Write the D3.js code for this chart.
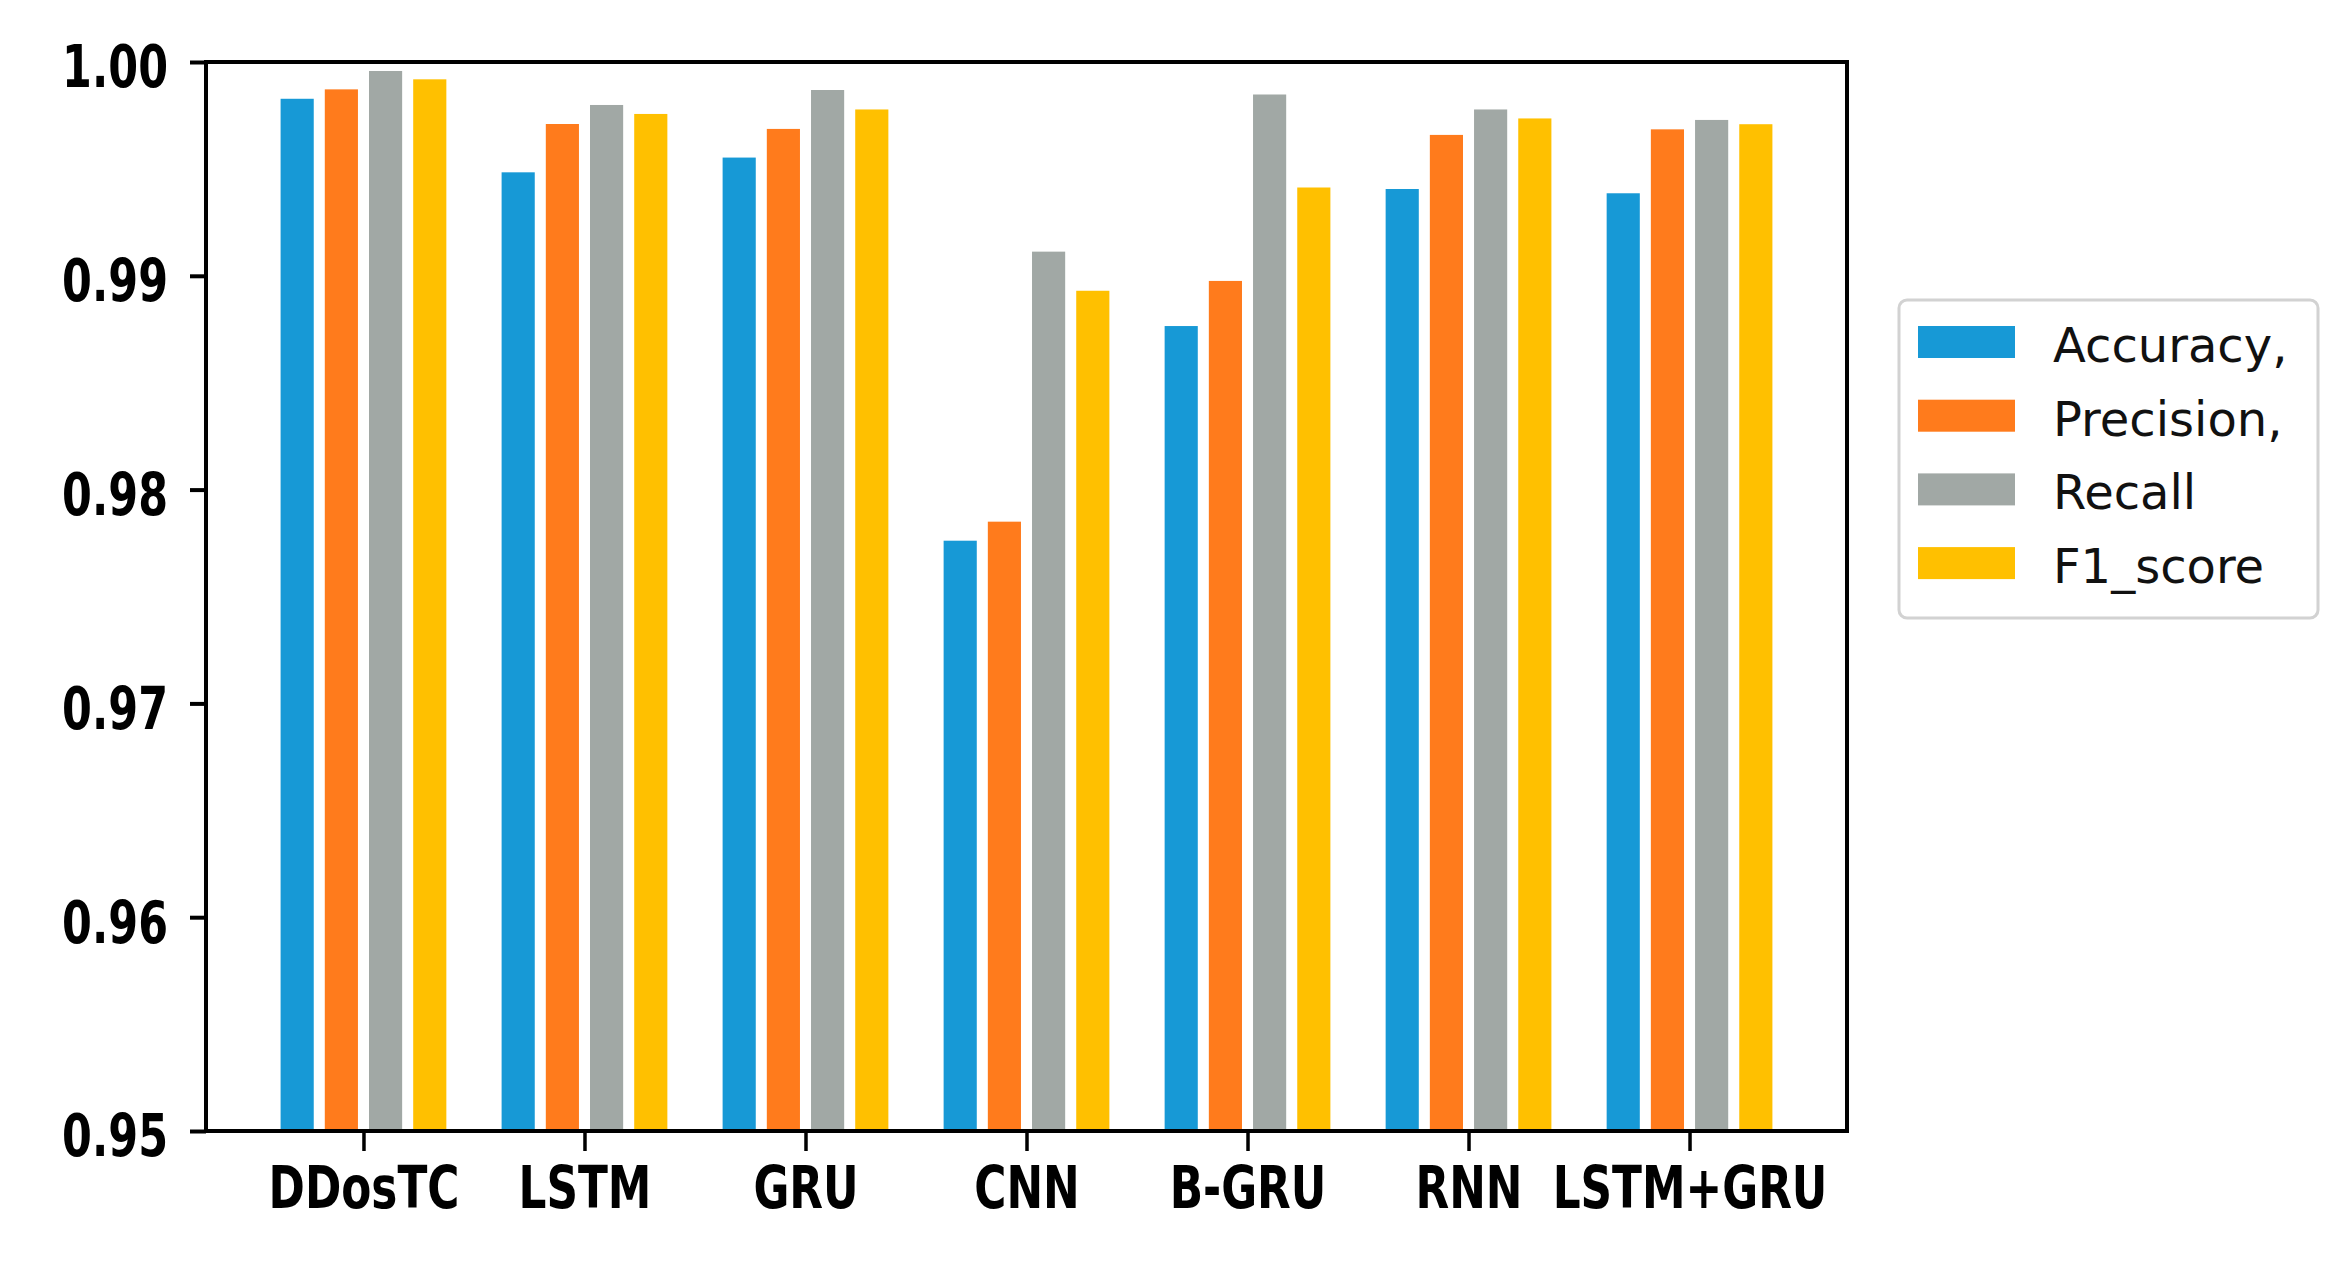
<!DOCTYPE html>
<html><head><meta charset="utf-8">
<script src="https://cdn.jsdelivr.net/npm/d3@7"></script>
<style>body{margin:0;background:#fff}svg{display:block}</style>
</head><body>
<script>
const categories = ["DDosTC","LSTM","GRU","CNN","B-GRU","RNN","LSTM+GRU"];
const seriesNames = ["Accuracy,","Precision,","Recall","F1_score"];
const accuracy  = [0.99828,0.99484,0.99553,0.97761,0.98765,0.99406,0.99386];
const precision = [0.99872,0.99710,0.99687,0.97850,0.98976,0.99659,0.99685];
const recall    = [0.99958,0.99799,0.99869,0.99113,0.99848,0.99778,0.99729];
const f1score   = [0.99919,0.99757,0.99778,0.98930,0.99413,0.99736,0.99709];
const yTicks = [0.95,0.96,0.97,0.98,0.99,1.00];
const colors = ["#1799d6","#ff7b1c","#a1a8a5","#ffc000"];
const series = [accuracy, precision, recall, f1score];

const W = 2351, H = 1266;
const L = 206, R = 1847, T = 62, B = 1131;
const svg = d3.select("body").append("svg").attr("width", W).attr("height", H);

const barW = 0.15, step = 0.2;
const x = d3.scaleLinear().domain([-0.7125, 6.7125]).range([L, R]);
const y = d3.scaleLinear().domain([0.95, 1.00]).range([B, T]);

// bars
series.forEach((vals, j) => {
  svg.append("g").selectAll("rect").data(vals).join("rect")
    .attr("x", (d, i) => x(i + (j - 1.5) * step - barW / 2))
    .attr("width", (d, i) => x(i + barW / 2) - x(i - barW / 2))
    .attr("y", d => y(d))
    .attr("height", d => y(0.95) - y(d))
    .attr("fill", colors[j]);
});

// axes
const yAxis = d3.axisLeft(y).tickValues(yTicks).tickFormat(d3.format(".2f")).tickSize(16).tickSizeOuter(0);
const gy = svg.append("g").attr("transform", `translate(${L},0)`).call(yAxis);
gy.select(".domain").remove();
gy.selectAll(".tick line").attr("stroke", "#000").attr("stroke-width", 4);
gy.selectAll(".tick text")
  .attr("x", null).attr("dy", "0.43em")
  .attr("transform", "translate(-38,0) scale(0.74,1)")
  .attr("text-anchor", "end")
  .style("font-family", "DejaVu Sans").style("font-weight", "bold")
  .style("font-size", "58px").attr("fill", "#000");

const xAxis = d3.axisBottom(x).tickValues(d3.range(categories.length)).tickFormat(i => categories[i]).tickSize(20).tickSizeOuter(0);
const gx = svg.append("g").attr("transform", `translate(0,${B})`).call(xAxis);
gx.select(".domain").remove();
gx.selectAll(".tick line").attr("stroke", "#000").attr("stroke-width", 3.5);
gx.selectAll(".tick text")
  .attr("y", null).attr("dy", null)
  .attr("transform", "translate(0,77) scale(0.755,1)")
  .attr("text-anchor", "middle")
  .style("font-family", "DejaVu Sans").style("font-weight", "bold")
  .style("font-size", "58px").attr("fill", "#000");

// frame
svg.append("rect").attr("x", L).attr("y", T).attr("width", R - L).attr("height", B - T)
  .attr("fill", "none").attr("stroke", "#000").attr("stroke-width", 4);

// legend
const lg = svg.append("g");
lg.append("rect").attr("x", 1899).attr("y", 300).attr("width", 419).attr("height", 318)
  .attr("rx", 8).attr("fill", "#fff").attr("stroke", "#d2d2d2").attr("stroke-width", 3);
seriesNames.forEach((name, j) => {
  const cy = 342 + j * 73.7;
  lg.append("rect").attr("x", 1918).attr("y", cy - 16).attr("width", 97).attr("height", 32).attr("fill", colors[j]);
  lg.append("text").attr("x", 2053).attr("y", cy + 20).text(name)
    .style("font-family", "DejaVu Sans").style("font-size", "48px").attr("fill", "#111");
});
</script>
</body></html>
